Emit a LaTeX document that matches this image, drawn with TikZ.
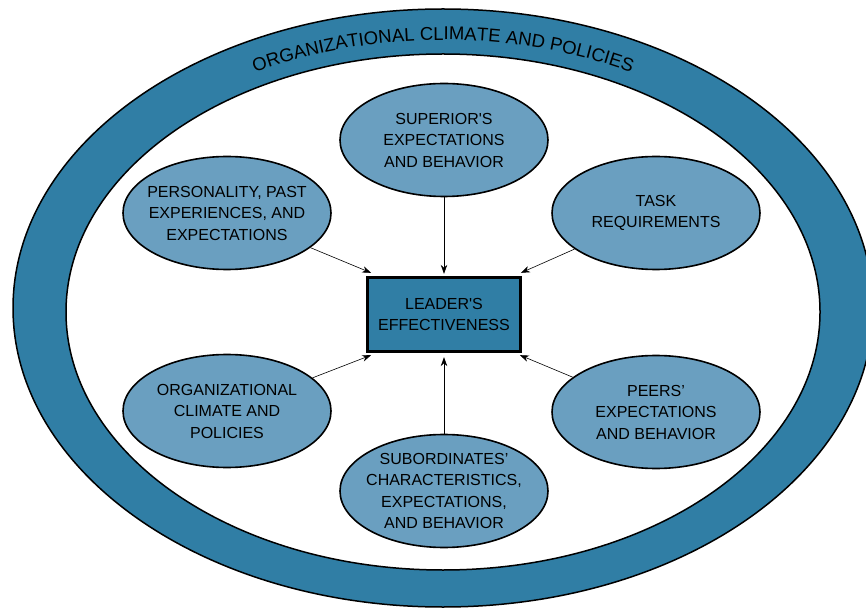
\documentclass[tikz,border=0pt]{standalone}
\usepackage{fontspec}
\setmainfont{Liberation Sans}
\usetikzlibrary{shapes.geometric,arrows.meta,decorations.text}
\definecolor{ringblue}{RGB}{48,126,165}
\definecolor{blobblue}{RGB}{106,159,192}
\newcommand\ringfont{\fontsize{18.5}{22}\selectfont}
\newcommand\blobfont{\fontsize{16}{21.5}\selectfont}
\tikzset{
  blob/.style={ellipse, draw, line width=1.6pt, fill=blobblue, minimum width=208pt,
    minimum height=113pt, inner xsep=-11pt, inner ysep=0pt, align=center, font=\blobfont},
  leaderbox/.style={rectangle, draw, line width=2.8pt, fill=ringblue, minimum width=153pt,
    minimum height=74.5pt, align=center, font=\blobfont},
  feed/.style={-{Stealth[length=9pt,width=6.5pt]}, line width=0.6pt}
}
\begin{document}
\begin{tikzpicture}[x=1pt,y=1pt]
  \useasboundingbox (0,0) rectangle (866,608);
  \fill[white] (0,0) rectangle (866,608);
  % outer ring
  \fill[ringblue, even odd rule] (443,300) ellipse [x radius=430, y radius=299]
    (443,296) ellipse [x radius=377, y radius=258];
  \draw[line width=1.5pt] (443,300) ellipse [x radius=430, y radius=299];
  \draw[line width=1.5pt] (443,296) ellipse [x radius=377, y radius=258];
  \path[decorate, decoration={text along path, text align=center,
      text={|\ringfont|ORGANIZATIONAL CLIMATE AND POLICIES}}]
    (443,300) ++(150:395 and 268) arc[start angle=150, end angle=30, x radius=395, y radius=268];
  % factors
  \node[blob] (sup) at (444,468) {SUPERIOR\textquotesingle S\\EXPECTATIONS\\AND BEHAVIOR};
  \node[blob] (pers) at (227,395) {PERSONALITY, PAST\\EXPERIENCES, AND\\EXPECTATIONS};
  \node[blob] (task) at (656,395) {TASK\\REQUIREMENTS};
  \node[blob] (org) at (227,197) {ORGANIZATIONAL\\CLIMATE AND\\POLICIES};
  \node[blob] (peers) at (656,196) {PEERS'\\EXPECTATIONS\\AND BEHAVIOR};
  \node[blob] (sub) at (444,117) {SUBORDINATES'\\CHARACTERISTICS,\\EXPECTATIONS,\\AND BEHAVIOR};
  \node[leaderbox] (lead) at (444,293.5) {LEADER\textquotesingle S\\EFFECTIVENESS};
  % arrow ends just off the box
  \coordinate (inNW) at ([shift={(5,3)}]lead.north west);
  \coordinate (inN) at ([shift={(0,2)}]lead.north);
  \coordinate (inNE) at ([shift={(-1,3)}]lead.north east);
  \coordinate (inSW) at ([shift={(5,-2)}]lead.south west);
  \coordinate (inS) at ([shift={(0,-4)}]lead.south);
  \coordinate (inSE) at ([shift={(-2,-2)}]lead.south east);
  \foreach \from/\to in {pers/inNW, sup/inN, task/inNE, org/inSW, sub/inS, peers/inSE}
    \draw[feed] (\from) -- (\to);
\end{tikzpicture}
\end{document}
